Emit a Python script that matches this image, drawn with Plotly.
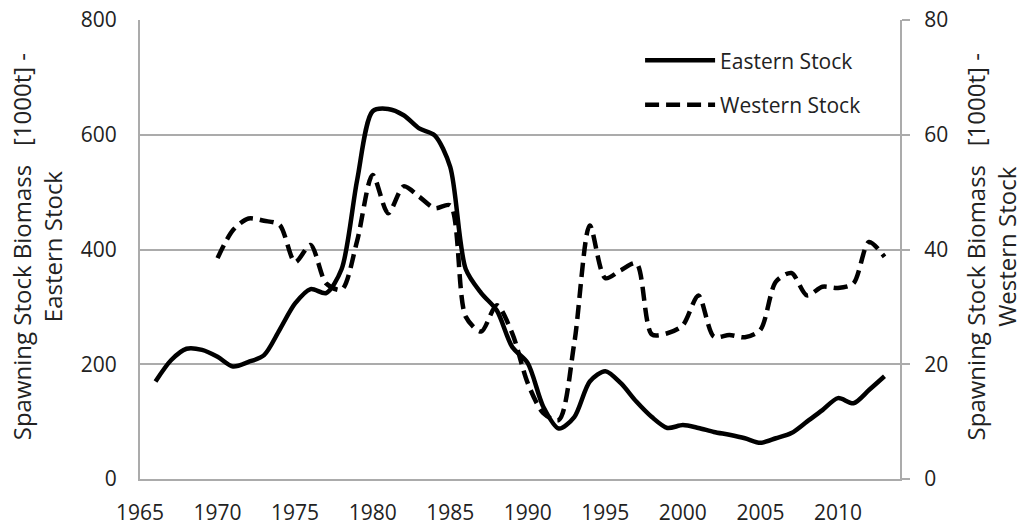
import plotly.graph_objects as go

years_east = list(range(1966, 2014))
eastern = [170, 207, 227, 225, 213, 196, 204, 216, 260, 306, 331, 324, 366, 521, 641, 645, 634, 611, 599, 544,
           366, 324, 294, 230, 202, 126, 88, 108, 170, 188, 167, 135, 108, 89, 94, 89, 82, 77, 71, 63,
           71, 80, 100, 120, 141, 132, 155, 179]

years_west = list(range(1970, 2014))
western = [38.5, 43.4, 45.4, 45.0, 44.3, 37.8, 40.8, 34.1, 33.0, 41.5, 53.0, 46.3, 51.0, 49.2, 47.2, 47.7,
           28.3, 25.7, 30.3, 25.4, 16.7, 11.5, 10.3, 23.7, 44.2, 35.0, 36.4, 37.6, 25.2, 25.4, 26.8, 32.0,
           24.8, 25.1, 24.7, 26.0, 34.4, 35.9, 32.0, 33.5, 33.3, 34.1, 41.3, 38.7]

FONT = "Open Sans"
TXT = "#222222"
GRID = "#ababab"

fig = go.Figure()
fig.add_trace(go.Scatter(x=years_east, y=eastern, name="Eastern Stock", mode="lines",
                         line=dict(color="black", width=4.5, shape="spline", smoothing=0.8),
                         legendgroup="a", yaxis="y"))
fig.add_trace(go.Scatter(x=years_west, y=western, name="Western Stock", mode="lines",
                         line=dict(color="black", width=4.5, shape="spline", smoothing=0.8, dash="14px,7px"),
                         legendgroup="b", yaxis="y2"))

fig.update_layout(
    width=1025, height=525,
    margin=dict(l=140, r=125, t=20, b=46, autoexpand=False),
    paper_bgcolor="white", plot_bgcolor="white",
    font=dict(family=FONT, size=21, color=TXT),
    xaxis=dict(range=[1965, 2014], tick0=1965, dtick=5, showgrid=False, zeroline=False,
               showline=True, linecolor=GRID, linewidth=2, ticks="", ticklabelstandoff=14,
               automargin=False, ticklabeloverflow="allow", tickfont=dict(size=21, color=TXT)),
    yaxis=dict(range=[0, 800], dtick=200, showgrid=True, gridcolor=GRID, gridwidth=1.5,
               zeroline=False, showline=True, linecolor=GRID, linewidth=2, ticks="",
               automargin=False, ticklabeloverflow="allow", ticklabelstandoff=17,
               tickfont=dict(size=21, color=TXT)),
    yaxis2=dict(range=[0, 80], dtick=20, overlaying="y", side="right", showgrid=False,
                zeroline=False, showline=True, linecolor=GRID, linewidth=2, ticks="outside",
                ticklen=8, tickwidth=2, tickcolor=GRID, ticklabelstandoff=10, automargin=False,
                ticklabeloverflow="allow", tickfont=dict(size=21, color=TXT)),
    legend=dict(x=0.658, y=0.956, xanchor="left", yanchor="top", bgcolor="rgba(0,0,0,0)",
                font=dict(size=21, color=TXT), itemwidth=70, traceorder="grouped",
                tracegroupgap=14),
    showlegend=True,
)

fig.add_annotation(text="Spawning Stock Biomass \u00a0 [1000t] -<br>Eastern Stock",
                   xref="paper", yref="paper", x=-0.1355, y=0.505, textangle=-90,
                   showarrow=False, xanchor="center", yanchor="middle",
                   font=dict(size=24, color=TXT, family=FONT))
fig.add_annotation(text="Spawning Stock Biomass \u00a0 [1000t] -<br>Western Stock",
                   xref="paper", yref="paper", x=1.12, y=0.505, textangle=-90,
                   showarrow=False, xanchor="center", yanchor="middle",
                   font=dict(size=24, color=TXT, family=FONT))

fig.write_html("out.html", config={"displayModeBar": False},
               post_script="document.body.style.margin='0';document.body.style.overflow='hidden';")
